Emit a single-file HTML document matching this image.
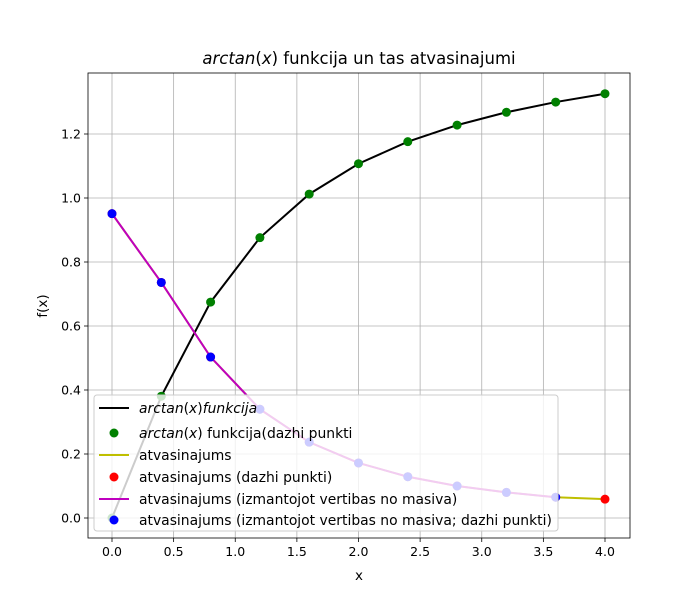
<!DOCTYPE html>
<html><head><meta charset="utf-8"><style>
body{margin:0;background:#fff}
svg{display:block;font-family:"DejaVu Sans","Liberation Sans",sans-serif}
</style></head><body>
<svg id="chart" width="700" height="606"></svg>
<script>
const xs=[0,0.4,0.8,1.2,1.6,2.0,2.4,2.8,3.2,3.6,4.0];
const arctanVals=[0,0.3805,0.6747,0.8761,1.0122,1.1071,1.1760,1.2278,1.2679,1.2998,1.3258];
const derivVals=[0.951,0.736,0.503,0.340,0.237,0.172,0.129,0.100,0.080,0.065,0.0588];
const derivArrVals=[0.951,0.736,0.503,0.340,0.237,0.172,0.129,0.100,0.080,0.065];
const xTicks=[0,0.5,1,1.5,2,2.5,3,3.5,4];
const xTickLabels=["0.0","0.5","1.0","1.5","2.0","2.5","3.0","3.5","4.0"];
const yTicks=[0,0.2,0.4,0.6,0.8,1.0,1.2];
const yTickLabels=["0.0","0.2","0.4","0.6","0.8","1.0","1.2"];
const legendLabels=["arctan(x)funkcija","arctan(x) funkcija(dazhi punkti","atvasinajums","atvasinajums (dazhi punkti)","atvasinajums (izmantojot vertibas no masiva)","atvasinajums (izmantojot vertibas no masiva; dazhi punkti)"];

const L=88,R=630,T=73,B=538;
const sx=v=>112+v*123.25;
const sy=v=>518-v*320;
const svg=document.getElementById('chart');
const NS='http://www.w3.org/2000/svg';
function mk(tag,attrs,parent){const e=document.createElementNS(NS,tag);for(const k in attrs)e.setAttribute(k,attrs[k]);(parent||svg).appendChild(e);return e;}

xTicks.forEach((t,i)=>{
 const g=mk('line',{x1:sx(t),x2:sx(t),y1:T,y2:B,stroke:'#b0b0b0','stroke-width':0.8});
 
 
 const tk=mk('line',{x1:sx(t),x2:sx(t),y1:B,y2:B+4,stroke:'#000','stroke-width':0.8});
 
 
 const tx=mk('text',{x:sx(t),y:B+18,'text-anchor':'middle','font-size':12.5});
 tx.textContent=xTickLabels[i];
 
 
});
yTicks.forEach((t,i)=>{
 const g=mk('line',{x1:L,x2:R,y1:sy(t),y2:sy(t),stroke:'#b0b0b0','stroke-width':0.8});
 
 
 const tk=mk('line',{x1:L-4,x2:L,y1:sy(t),y2:sy(t),stroke:'#000','stroke-width':0.8});
 
 
 const tx=mk('text',{x:L-7,y:sy(t)+4.5,'text-anchor':'end','font-size':12.5});
 tx.textContent=yTickLabels[i];
 
 
});

function line(xv,yv,color,name){
 const p=mk('polyline',{points:yv.map((y,i)=>sx(xv[i])+','+sy(y)).join(' '),fill:'none',stroke:color,'stroke-width':2});
 
 
}
function dots(xv,yv,color,name){
 yv.forEach((y,i)=>{
  const c=mk('circle',{cx:sx(xv[i]),cy:sy(y),r:4.5,fill:color});
  
  
 });
}
line(xs,arctanVals,'#000','arctan-line');
dots(xs,arctanVals,'#008000','arctan-point');
line(xs,derivVals,'#bfbf00','derivative-line');
dots(xs,derivVals,'#ff0000','derivative-point');
line(xs,derivArrVals,'#bf00bf','derivative-array-line');
dots(xs,derivArrVals,'#0000ff','derivative-array-point');

const fr=mk('rect',{x:L,y:T,width:R-L,height:B-T,fill:'none',stroke:'#000','stroke-width':0.8});



const lg=mk('g',{});


mk('rect',{x:94,y:395,width:464,height:136,rx:3,fill:'rgba(255,255,255,0.8)',stroke:'#ccc','stroke-width':1},lg);
const ly=[408,433,455,477,499,520];
const kinds=[['l','#000'],['d','#008000'],['l','#bfbf00'],['d','#ff0000'],['l','#bf00bf'],['d','#0000ff']];
kinds.forEach((k,i)=>{
 if(k[0]==='l') mk('line',{x1:99,x2:129,y1:ly[i],y2:ly[i],stroke:k[1],'stroke-width':2},lg);
 else mk('circle',{cx:114,cy:ly[i],r:4.5,fill:k[1]},lg);
 const t=mk('text',{x:139,y:ly[i]+5,'font-size':13.9},lg);
 
 
 if(i===0){t.innerHTML='<tspan font-style="italic">arctan</tspan>(<tspan font-style="italic">x</tspan>)<tspan font-style="italic">funkcija</tspan>';}
 else if(i===1){t.innerHTML='<tspan font-style="italic">arctan</tspan>(<tspan font-style="italic">x</tspan>) funkcija(dazhi punkti';}
 else t.textContent=legendLabels[i];
});

const ti=mk('text',{x:359,y:64,'text-anchor':'middle','font-size':16.5});
ti.innerHTML='<tspan font-style="italic">arctan</tspan>(<tspan font-style="italic">x</tspan>) funkcija un tas atvasinajumi';


const xl=mk('text',{x:359,y:580,'text-anchor':'middle','font-size':13.5});
xl.textContent='x';


const yl=mk('text',{x:47,y:306,'text-anchor':'middle','font-size':13.5,transform:'rotate(-90 47 306)'});
yl.textContent='f(x)';


</script>
</body></html>
